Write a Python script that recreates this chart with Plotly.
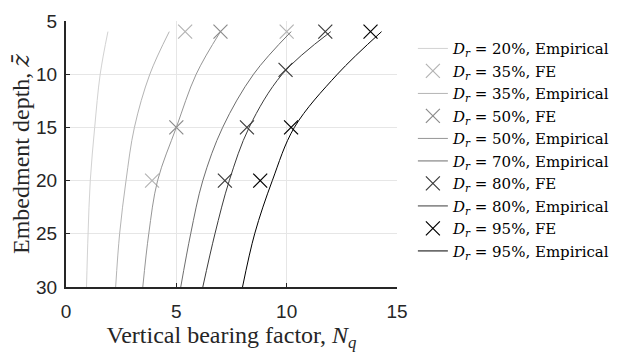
import plotly.graph_objects as go

# Empirical curves: depth values and bearing factor read at those depths
z_emp = [6, 10, 15, 20, 25, 30]
nq_20 = [1.9, 1.55, 1.3, 1.1, 1.0, 0.93]
nq_35 = [4.68, 3.8, 3.1, 2.72, 2.43, 2.25]
nq_50 = [7.0, 5.9, 5.0, 4.15, 3.75, 3.48]
nq_70 = [10.2, 8.5, 7.1, 6.2, 5.65, 5.2]
nq_80 = [12.0, 9.8, 8.3, 7.4, 6.75, 6.2]
nq_95 = [14.3, 12.3, 10.35, 9.35, 8.55, 8.0]

# FE results
fe35_nq = [5.4, 10.0, 3.9]
fe35_z = [6, 6, 20]
fe50_nq = [7.0, 5.0]
fe50_z = [6, 15]
fe80_nq = [11.75, 9.95, 8.2, 7.2]
fe80_z = [6, 9.6, 15, 20]
fe95_nq = [13.8, 10.2, 8.8]
fe95_z = [6, 15, 20]

x_ticks = [0, 5, 10, 15]
y_ticks = [5, 10, 15, 20, 25, 30]

def lab(p, kind):
    return "<i>D</i><sub><i>r</i></sub> = %d%%, %s" % (p, kind)

fig = go.Figure()

def emp(nq, color, p):
    fig.add_trace(go.Scatter(x=nq, y=z_emp, mode="lines", name=lab(p, "Empirical"),
                             line=dict(color=color, width=1, shape="spline", smoothing=1.0)))

def fe(nq, z, color, p):
    fig.add_trace(go.Scatter(x=nq, y=z, mode="markers", name=lab(p, "FE"),
                             marker=dict(symbol="x-thin-open", size=14,
                                         line=dict(color=color, width=1.2), color=color)))

emp(nq_20, "#d2d2d2", 20)
fe(fe35_nq, fe35_z, "#b4b4b4", 35)
emp(nq_35, "#b4b4b4", 35)
fe(fe50_nq, fe50_z, "#8c8c8c", 50)
emp(nq_50, "#969696", 50)
emp(nq_70, "#6e6e6e", 70)
fe(fe80_nq, fe80_z, "#3c3c3c", 80)
emp(nq_80, "#3c3c3c", 80)
fe(fe95_nq, fe95_z, "#000000", 95)
emp(nq_95, "#000000", 95)

serif = "Liberation Serif"
sans = "Liberation Sans"

fig.update_layout(
    width=626, height=354,
    margin=dict(l=66, r=227, t=11, b=66),
    plot_bgcolor="white", paper_bgcolor="white",
    showlegend=True,
    legend=dict(x=1.048, xanchor="left", y=0.958, yanchor="top",
                font=dict(family="DejaVu Serif", size=15, color="#000"),
                itemwidth=30, tracegroupgap=0, bgcolor="rgba(0,0,0,0)"),
    xaxis=dict(range=[0, 15], tickvals=x_ticks, ticks="inside", ticklen=4,
               tickcolor="#262626", showline=True, linecolor="#262626", linewidth=2,
               showgrid=True, gridcolor="#e6e6e6", gridwidth=1, zeroline=False,
               ticklabelstandoff=6,
               tickfont=dict(family=sans, size=19, color="#262626"),
               title=dict(text="Vertical bearing factor, <i>N</i><sub><i>q</i></sub>",
                          font=dict(family=serif, size=24, color="#262626"), standoff=4)),
    yaxis=dict(range=[30, 5], tickvals=y_ticks, ticks="inside", ticklen=4,
               tickcolor="#262626", showline=True, linecolor="#262626", linewidth=2,
               showgrid=True, gridcolor="#e6e6e6", gridwidth=1, zeroline=False,
               ticklabelstandoff=3,
               tickfont=dict(family=sans, size=19, color="#262626"),
               title=dict(text="Embedment depth, <span style='font-family:DejaVu Serif'><i>z\u0304</i></span>",
                          font=dict(family=serif, size=24, color="#262626"), standoff=0)),
)

fig.write_html("out.html")
